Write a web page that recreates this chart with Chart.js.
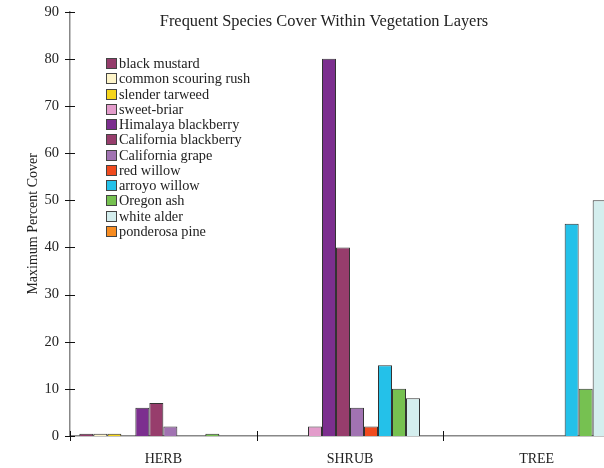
<!DOCTYPE html>
<html>
<head>
<meta charset="utf-8">
<script src="https://cdn.jsdelivr.net/npm/chart.js@4"></script>
<style>
  html, body { margin: 0; padding: 0; overflow: hidden; background: #fff; }
  #wrap { position: relative; width: 650px; height: 468px; }
  #leyenda { position: absolute; left: 106px; top: 56px; font-family: "Liberation Serif", serif; font-size: 14.3px; color: #222; }
  #leyenda div { height: 15.27px; line-height: 15.27px; white-space: nowrap; }
  #leyenda span.caja { display: inline-block; width: 9px; height: 9px; border: 1px solid #444; margin-right: 2px; vertical-align: -1px; }
</style>
</head>
<body>
<div id="wrap">
  <canvas id="grafico" width="650" height="468"></canvas>
  <div id="leyenda"></div>
</div>
<script>
// Datos del gráfico
const categorias = ['HERB', 'SHRUB', 'TREE'];
const especies = ['black mustard', 'common scouring rush', 'slender tarweed', 'sweet-briar',
  'Himalaya blackberry', 'California blackberry', 'California grape', 'red willow',
  'arroyo willow', 'Oregon ash', 'white alder', 'ponderosa pine'];
const colores = ['#943c6b', '#fdf4c9', '#f6d51c', '#e39ccb', '#7c2f8f', '#973d6c',
  '#a173b2', '#f04b1f', '#24c1e9', '#76c151', '#d4eeee', '#f78c21'];

// Valores por especie: [HERB, SHRUB, TREE]
const blackMustard = [0.5, null, null];
const commonScouringRush = [0.5, null, null];
const slenderTarweed = [0.5, null, null];
const sweetBriar = [null, 2, null];
const himalayaBlackberry = [6, 80, null];
const californiaBlackberry = [7, 40, null];
const californiaGrape = [2, 6, null];
const redWillow = [null, 2, null];
const arroyoWillow = [null, 15, 45];
const oregonAsh = [0.5, 10, 10];
const whiteAlder = [null, 8, 50];
const ponderosaPine = [null, null, null];

const valores = [blackMustard, commonScouringRush, slenderTarweed, sweetBriar,
  himalayaBlackberry, californiaBlackberry, californiaGrape, redWillow,
  arroyoWillow, oregonAsh, whiteAlder, ponderosaPine];

const ticksY = [0, 10, 20, 30, 40, 50, 60, 70, 80, 90];

const fuente = '"Liberation Serif", serif';

// Leyenda en HTML dentro del área del gráfico
function armarLeyenda() {
  const cont = document.getElementById('leyenda');
  especies.forEach(function(nombre, i) {
    const fila = document.createElement('div');
    const caja = document.createElement('span');
    caja.className = 'caja';
    caja.style.background = colores[i];
    fila.appendChild(caja);
    fila.appendChild(document.createTextNode(nombre));
    cont.appendChild(fila);
  });
}

// Título y marcas de los ejes que cruzan la línea
const extras = {
  id: 'extras',
  afterDraw(chart) {
    const ctx = chart.ctx;
    const area = chart.chartArea;
    const y = chart.scales.y;
    const x = chart.scales.x;
    ctx.save();
    ctx.strokeStyle = '#111';
    ctx.lineWidth = 1;
    ticksY.forEach(function(v) {
      const py = Math.round(y.getPixelForValue(v)) + 0.5;
      ctx.beginPath();
      ctx.moveTo(area.left - 5, py);
      ctx.lineTo(area.left + 5, py);
      ctx.stroke();
    });
    for (let i = 0; i <= categorias.length; i++) {
      const px = Math.round(x.getPixelForValue(i - 0.5)) + 0.5;
      ctx.beginPath();
      ctx.moveTo(px, area.bottom - 5);
      ctx.lineTo(px, area.bottom + 5);
      ctx.stroke();
    }
    ctx.fillStyle = '#222';
    ctx.font = '16.4px ' + fuente;
    ctx.textAlign = 'center';
    ctx.textBaseline = 'middle';
    ctx.fillText('Frequent Species Cover Within Vegetation Layers', 324, 22);
    ctx.restore();
  }
};

function dibujarGrafico() {
  const ctx = document.getElementById('grafico').getContext('2d');
  new Chart(ctx, {
    type: 'bar',
    data: {
      labels: categorias,
      datasets: especies.map(function(nombre, i) {
        return {
          label: nombre,
          data: valores[i],
          backgroundColor: colores[i],
          borderColor: '#333',
          borderWidth: 1,
          categoryPercentage: 0.9,
          barPercentage: 1
        };
      })
    },
    options: {
      responsive: false,
      animation: false,
      layout: { padding: { top: 5, right: 20, left: 0, bottom: 0 } },
      plugins: {
        legend: { display: false },
        title: { display: false },
        tooltip: { enabled: false }
      },
      scales: {
        x: {
          grid: { display: false },
          border: { display: true, color: '#888', width: 1.5 },
          ticks: { color: '#222', font: { family: fuente, size: 14 }, padding: 7 },
          afterFit: function(s) { s.height = 32; }
        },
        y: {
          min: 0,
          max: 90,
          afterBuildTicks: function(s) { s.ticks = ticksY.map(function(v) { return { value: v }; }); },
          grid: { display: false },
          border: { display: true, color: '#888', width: 1.5 },
          ticks: { color: '#222', font: { family: fuente, size: 14.5 }, padding: 3 },
          title: {
            display: true,
            text: 'Maximum Percent Cover',
            color: '#222',
            font: { family: fuente, size: 14 },
            padding: { top: 25, bottom: 0 }
          },
          afterFit: function(s) { s.width = 70; }
        }
      }
    },
    plugins: [extras]
  });
}

document.addEventListener('DOMContentLoaded', function() {
  armarLeyenda();
  dibujarGrafico();
});
</script>
</body>
</html>
